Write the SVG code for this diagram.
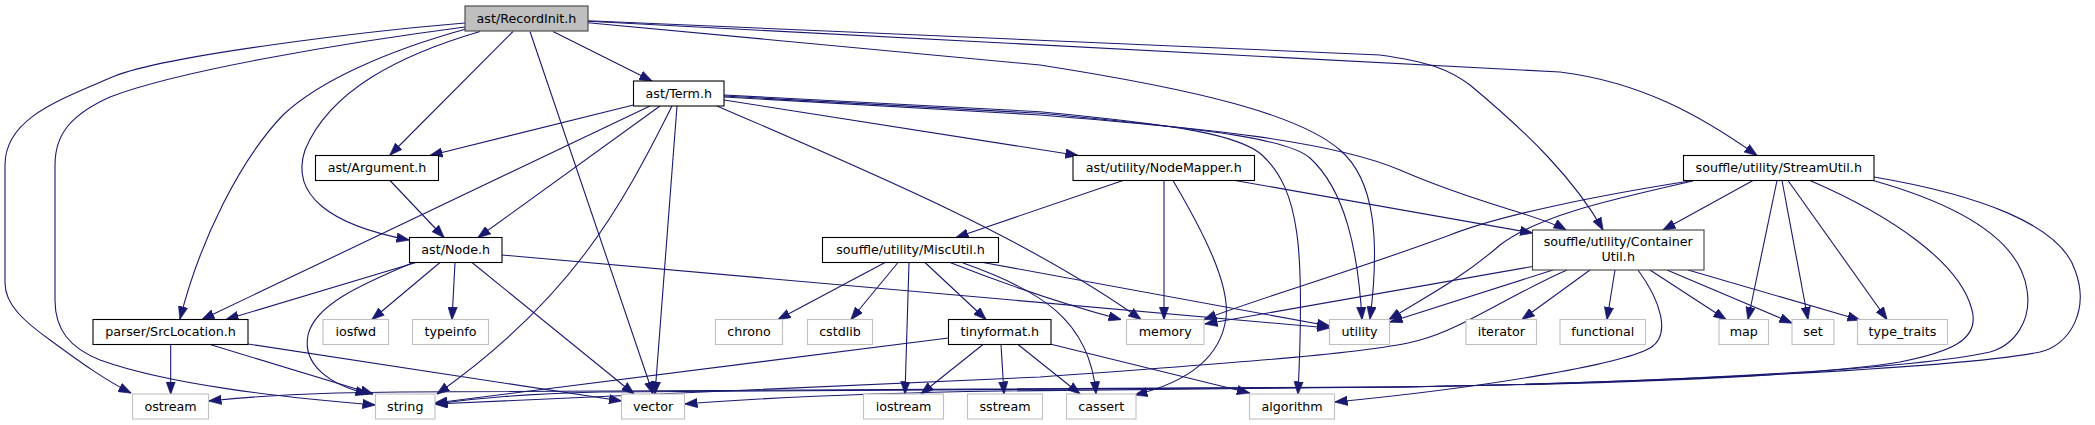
<svg xmlns="http://www.w3.org/2000/svg" width="2095" height="425" viewBox="0 0 2095 425">
<style>
.e{fill:none;stroke:#191970;stroke-width:1.1;marker-end:url(#a)}
.n rect{fill:#fff;stroke:#000;stroke-width:1.1}
.g rect{fill:#fff;stroke:#bfbfbf;stroke-width:1.1}
text{font-family:"DejaVu Sans",sans-serif;font-size:12.7px;text-anchor:middle;fill:#000}
</style>
<defs>
<marker id="a" markerWidth="13" markerHeight="10" refX="12.5" refY="5" orient="auto" markerUnits="userSpaceOnUse"><path d="M0,0.3 L13,5 L0,9.7 z" fill="#191970" stroke="#191970" stroke-width="0.6"/></marker>
</defs>
<rect width="2095" height="425" fill="#fff"/>
<g id="edges">
<path class="e" d="M465,23 C380,30 160,55 110,78 C60,100 5,118 5,165 L5,283 C5,305 25,322 50,340 C80,362 105,380 131,393"/>
<path class="e" d="M465,27 C350,42 180,70 110,97 C70,115 55,135 55,165 L55,300 C55,330 70,348 100,360 C170,385 280,397 375,405"/>
<path class="e" d="M466,29 C390,50 320,80 283,115 C240,160 200,240 180,319"/>
<path class="e" d="M480,31.5 C400,55 330,90 305,150 C290,195 330,225 409,240"/>
<path class="e" d="M513,31.5 L390,155"/>
<path class="e" d="M530,31.5 L653,394"/>
<path class="e" d="M553,31.5 L652,81"/>
<path class="e" d="M588,22.7 L1040,65 C1200,90 1300,115 1340,150 C1375,180 1380,240 1370,319"/>
<path class="e" d="M588,20.7 L1380,55 C1430,62 1450,70 1470,85 C1530,135 1575,180 1603,230"/>
<path class="e" d="M588,21.3 L1560,72 C1640,82 1700,115 1757,155.5"/>
<path class="e" d="M633.5,105 L430,155.5"/>
<path class="e" d="M650,106 L202,319.5"/>
<path class="e" d="M660,106 L478,237.5"/>
<path class="e" d="M672,106 C620,210 570,300 437,394"/>
<path class="e" d="M677,106 L655,394"/>
<path class="e" d="M717,106 C880,176 1030,240 1141,319.5"/>
<path class="e" d="M724,100 L1078,155.5"/>
<path class="e" d="M724,95 L1040,111.7 C1180,125 1240,135 1262,155 C1300,190 1305,250 1298,394"/>
<path class="e" d="M724,96 L1040,113.3 C1220,130 1290,140 1310,158 C1345,190 1358,250 1362,319.5"/>
<path class="e" d="M724,97 L1040,115 C1200,128 1330,140 1400,170 C1480,205 1540,215 1566,230"/>
<path class="e" d="M390,180.5 L444,237.5"/>
<path class="e" d="M1123,180.5 L956,237.5"/>
<path class="e" d="M1164,180.5 L1164,319.5"/>
<path class="e" d="M1173,180.5 C1205,235 1230,285 1226,318 C1220,362 1180,384 1135,395"/>
<path class="e" d="M1235,180.5 L1532.5,233"/>
<path class="e" d="M416,262.5 L226,319.5"/>
<path class="e" d="M412,263 C360,285 315,305 308,335 C302,365 330,385 368,394"/>
<path class="e" d="M440,262.5 L372,319.5"/>
<path class="e" d="M455,262.5 L452,319.5"/>
<path class="e" d="M472,262.5 L634,394"/>
<path class="e" d="M502,255 L1329.5,328"/>
<path class="e" d="M170.7,344.5 L170.7,394"/>
<path class="e" d="M210,344.5 L373,394"/>
<path class="e" d="M248,344 L621.5,401"/>
<path class="e" d="M885,262.5 L778,319.5"/>
<path class="e" d="M898,262.5 L851,319.5"/>
<path class="e" d="M909,262.5 L905,394"/>
<path class="e" d="M925,262.5 L986,319.5"/>
<path class="e" d="M950,262.5 Q1040,298 1121,319.5"/>
<path class="e" d="M963,263 C1040,290 1090,320 1096,394"/>
<path class="e" d="M983,262.5 L1329.5,326"/>
<path class="e" d="M948.5,338 L435,403"/>
<path class="e" d="M983,344.5 L921,394"/>
<path class="e" d="M1001,344.5 L1004,394"/>
<path class="e" d="M1018,344.5 L1080,394"/>
<path class="e" d="M1050,344 L1249.5,393"/>
<path class="e" d="M1532.5,266.5 L1205,324"/>
<path class="e" d="M1553,270 L1390,322"/>
<path class="e" d="M1590,270 L1522,319.5"/>
<path class="e" d="M1615,270 L1607,319.5"/>
<path class="e" d="M1638,270 C1660,300 1672,335 1650,348 C1620,365 1480,388 1335,402"/>
<path class="e" d="M1650,270 L1726,319.5"/>
<path class="e" d="M1667,270 L1792,323"/>
<path class="e" d="M1688,270 L1860,320"/>
<path class="e" d="M1567,270 C1510,295 1460,330 1420,340 C1380,352 1250,362 1040,377 L435,404"/>
<path class="e" d="M1753,180.5 L1663,230"/>
<path class="e" d="M1777,180.5 L1748,319.5"/>
<path class="e" d="M1782,180.5 L1808,319.5"/>
<path class="e" d="M1788,180.5 L1887,319.5"/>
<path class="e" d="M1693,180.5 C1600,195 1500,215 1450,235 C1350,272 1260,298 1204,319.5"/>
<path class="e" d="M1693,181 C1610,200 1540,215 1500,245 C1460,280 1420,300 1389,319.5"/>
<path class="e" d="M1810,180.5 C1890,215 1960,262 1972,310 C1980,340 1950,352 1900,362 C1800,378 1600,384 1400,387 L1000,391 C880,393 760,398 685,404"/>
<path class="e" d="M1873,180.5 C1960,205 2020,240 2027,290 C2032,320 2015,345 1990,352 C1900,372 1600,384 1400,387 L600,392 C520,394 480,398 435,404"/>
<path class="e" d="M1874,177 C1980,195 2060,225 2075,270 C2090,310 2070,345 2040,352 C1950,370 1600,384 1400,387 L400,392 C300,393 260,396 209,401"/>
</g>
<g id="n_recordinit"><rect x="465" y="6" width="123" height="25" fill="#bfbfbf" stroke="#404040" stroke-width="1.1"/><text x="526.5" y="22.5">ast/RecordInit.h</text></g>
<g id="n_term" class="n"><rect x="633.5" y="81" width="90.5" height="25"/><text x="678.75" y="97.5">ast/Term.h</text></g>
<g id="n_argument" class="n"><rect x="315.5" y="155.5" width="123" height="25"/><text x="377" y="172">ast/Argument.h</text></g>
<g id="n_nodemapper" class="n"><rect x="1073" y="155.5" width="181.5" height="25"/><text x="1163.75" y="172">ast/utility/NodeMapper.h</text></g>
<g id="n_streamutil" class="n"><rect x="1683.5" y="155.5" width="190.5" height="25"/><text x="1778.75" y="172">souffle/utility/StreamUtil.h</text></g>
<g id="n_node" class="n"><rect x="409.5" y="237.5" width="92.5" height="25"/><text x="455.75" y="254">ast/Node.h</text></g>
<g id="n_miscutil" class="n"><rect x="822.5" y="237.5" width="176" height="25"/><text x="910.5" y="254">souffle/utility/MiscUtil.h</text></g>
<g id="n_containerutil" class="n"><rect x="1532.5" y="230" width="171.5" height="40" style="stroke:#404040"/><text x="1618.25" y="246">souffle/utility/Container</text><text x="1618.25" y="261">Util.h</text></g>
<g id="n_srclocation" class="n"><rect x="93" y="319.5" width="155" height="25"/><text x="170.5" y="336">parser/SrcLocation.h</text></g>
<g id="n_iosfwd" class="g"><rect x="323" y="319.5" width="65.5" height="25"/><text x="355.75" y="336">iosfwd</text></g>
<g id="n_typeinfo" class="g"><rect x="412.5" y="319.5" width="76" height="25"/><text x="450.5" y="336">typeinfo</text></g>
<g id="n_chrono" class="g"><rect x="715.5" y="319.5" width="67" height="25"/><text x="749" y="336">chrono</text></g>
<g id="n_cstdlib" class="g"><rect x="807.5" y="319.5" width="65" height="25"/><text x="840" y="336">cstdlib</text></g>
<g id="n_tinyformat" class="n"><rect x="948.5" y="319.5" width="102.5" height="25"/><text x="999.75" y="336">tinyformat.h</text></g>
<g id="n_memory" class="g"><rect x="1126.5" y="319.5" width="77.5" height="25"/><text x="1165.25" y="336">memory</text></g>
<g id="n_utility" class="g"><rect x="1329.5" y="319.5" width="60" height="25"/><text x="1359.5" y="336">utility</text></g>
<g id="n_iterator" class="g"><rect x="1466" y="319.5" width="70.5" height="25"/><text x="1501.25" y="336">iterator</text></g>
<g id="n_functional" class="g"><rect x="1560" y="319.5" width="85.5" height="25"/><text x="1602.75" y="336">functional</text></g>
<g id="n_map" class="g"><rect x="1719" y="319.5" width="49.5" height="25"/><text x="1743.75" y="336">map</text></g>
<g id="n_set" class="g"><rect x="1792" y="319.5" width="42" height="25"/><text x="1813" y="336">set</text></g>
<g id="n_type_traits" class="g"><rect x="1857.5" y="319.5" width="90" height="25"/><text x="1902.5" y="336">type_traits</text></g>
<g id="n_ostream" class="g"><rect x="132.5" y="394" width="76" height="25"/><text x="170.5" y="410.5">ostream</text></g>
<g id="n_string" class="g"><rect x="375.5" y="394" width="59.5" height="25"/><text x="405.25" y="410.5">string</text></g>
<g id="n_vector" class="g"><rect x="621.5" y="394" width="63" height="25"/><text x="653" y="410.5">vector</text></g>
<g id="n_iostream" class="g"><rect x="863.5" y="394" width="80" height="25"/><text x="903.5" y="410.5">iostream</text></g>
<g id="n_sstream" class="g"><rect x="967.5" y="394" width="75" height="25"/><text x="1005" y="410.5">sstream</text></g>
<g id="n_cassert" class="g"><rect x="1066.5" y="394" width="69.5" height="25"/><text x="1101.25" y="410.5">cassert</text></g>
<g id="n_algorithm" class="g"><rect x="1249.5" y="394" width="85" height="25"/><text x="1292" y="410.5">algorithm</text></g>
</svg>
